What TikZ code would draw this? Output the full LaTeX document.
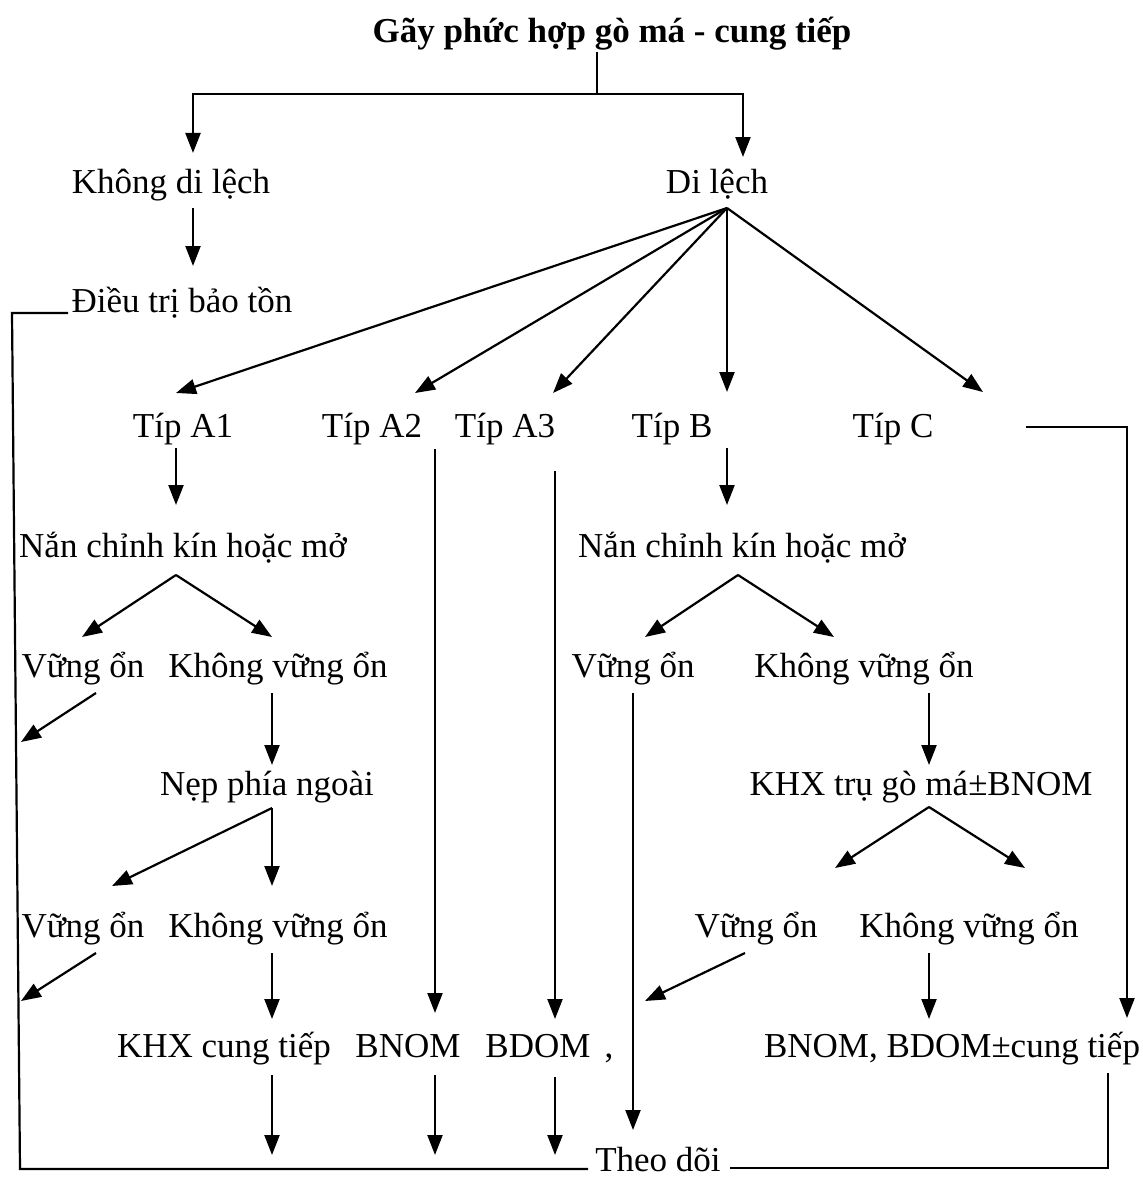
\documentclass[tikz,border=0pt]{standalone}
\usepackage{fontspec}
\setmainfont{Liberation Serif}
\usetikzlibrary{arrows.meta}

\begin{document}
\begin{tikzpicture}[x=0.5pt,y=-0.5pt,>={Triangle[length=10pt,width=7.5pt]},
                    line width=1.1pt,
                    txt/.style={anchor=base,inner sep=0pt,font=\fontsize{17.5pt}{21pt}\selectfont}]
  \useasboundingbox (0,0) rectangle (1142,1177);

  \node[txt,font=\fontsize{17.5pt}{21pt}\selectfont\bfseries] (title) at (612,43) {Gãy phức hợp gò má - cung tiếp};

  \node[txt] (kdl) at (171,193) {Không di lệch};
  \node[txt] (dl) at (717,193) {Di lệch};
  \node[txt] (dt) at (182,312) {Điều trị bảo tồn};

  \node[txt] (a1) at (183,437) {Típ A1};
  \node[txt] (a2) at (372,437) {Típ A2};
  \node[txt] (a3) at (505,437) {Típ A3};
  \node[txt] (b) at (672,437) {Típ B};
  \node[txt] (c) at (893,437) {Típ C};

  \node[txt] (nanL) at (183,557) {Nắn chỉnh kín hoặc mở};
  \node[txt] (vL1) at (83,677) {Vững ổn};
  \node[txt] (kvL1) at (278,677) {Không vững ổn};
  \node[txt] (nep) at (267,795) {Nẹp phía ngoài};
  \node[txt] (vL2) at (83,937) {Vững ổn};
  \node[txt] (kvL2) at (278,937) {Không vững ổn};
  \node[txt] (khx) at (224,1057) {KHX cung tiếp};
  \node[txt] (bnom) at (408,1057) {BNOM};
  \node[txt] (bdom) at (538,1057) {BDOM};
  \node[txt] (comma) at (609,1057) {,};

  \node[txt] (nanR) at (742,557) {Nắn chỉnh kín hoặc mở};
  \node[txt] (vR1) at (633,677) {Vững ổn};
  \node[txt] (kvR1) at (864,677) {Không vững ổn};
  \node[txt] (khxt) at (921,795) {KHX trụ gò má±BNOM};
  \node[txt] (vR2) at (756,937) {Vững ổn};
  \node[txt] (kvR2) at (969,937) {Không vững ổn};
  \node[txt] (bnR) at (952,1057) {BNOM, BDOM±cung tiếp};

  \node[txt] (td) at (658,1171) {Theo dõi};

  % end points of the connectors
  \coordinate (split) at (597,94);
  \coordinate (kdlin) at (193,153);
  \coordinate (dlin) at (743,157);
  \coordinate (kdlout) at (193,208);
  \coordinate (dtin) at (193,266);
  \coordinate (dlout) at (727,208);
  \coordinate (a1in) at (176,393);
  \coordinate (a2in) at (415,393);
  \coordinate (a3in) at (553,393);
  \coordinate (bin) at (727,392);
  \coordinate (cin) at (983,392);

  \coordinate (a1out) at (176,448);
  \coordinate (nanLin) at (176,505);
  \coordinate (nanLout) at (176,575);
  \coordinate (vL1in) at (82,637);
  \coordinate (kvL1in) at (272,637);
  \coordinate (vL1out) at (96,693);
  \coordinate (vL1end) at (21,742);
  \coordinate (kvL1out) at (272,693);
  \coordinate (nepin) at (272,765);
  \coordinate (nepout) at (272,808);
  \coordinate (vL2in) at (112,886);
  \coordinate (kvL2in) at (272,886);
  \coordinate (vL2out) at (96,953);
  \coordinate (vL2end) at (21,1001);
  \coordinate (kvL2out) at (272,953);
  \coordinate (khxin) at (272,1019);
  \coordinate (a2out) at (435,449);
  \coordinate (bnomin) at (435,1013);
  \coordinate (a3out) at (555,471);
  \coordinate (bdomin) at (555,1019);
  \coordinate (khxout) at (272,1075);
  \coordinate (khxend) at (272,1155);
  \coordinate (bnomout) at (435,1075);
  \coordinate (bnomend) at (435,1155);
  \coordinate (bdomout) at (555,1077);
  \coordinate (bdomend) at (555,1155);

  \coordinate (dtleft) at (68,313);
  \coordinate (lcorner) at (12,313);
  \coordinate (bcorner) at (20,1169);
  \coordinate (tdleft) at (588,1169);
  \coordinate (tdright) at (730,1168);
  \coordinate (rcorner) at (1108,1168);
  \coordinate (bnRout) at (1108,1073);

  \coordinate (cout) at (1026,427);
  \coordinate (bnRin) at (1127,1018);

  \coordinate (bout) at (727,448);
  \coordinate (nanRin) at (727,505);
  \coordinate (nanRout) at (738,575);
  \coordinate (vR1in) at (645,637);
  \coordinate (kvR1in) at (834,637);
  \coordinate (vR1out) at (633,693);
  \coordinate (tdin) at (633,1130);
  \coordinate (kvR1out) at (929,693);
  \coordinate (khxtin) at (929,765);
  \coordinate (khxtout) at (929,807);
  \coordinate (vR2in) at (835,868);
  \coordinate (kvR2in) at (1025,868);
  \coordinate (vR2out) at (745,953);
  \coordinate (vR2end) at (645,1001);
  \coordinate (kvR2out) at (929,953);
  \coordinate (bnRin2) at (929,1019);

  % title split
  \draw (title.south -| split) -- (split);
  \draw[->] (split) -| (kdlin);
  \draw[->] (split) -| (dlin);
  \draw[->] (kdlout) -- (dtin);
  \foreach \t in {a1in,a2in,a3in,bin,cin}
    \draw[->] (dlout) -- (\t);

  % left branch
  \draw[->] (a1out) -- (nanLin);
  \draw[->] (nanLout) -- (vL1in);
  \draw[->] (nanLout) -- (kvL1in);
  \draw[->] (vL1out) -- (vL1end);
  \draw[->] (kvL1out) -- (nepin);
  \draw[->] (nepout) -- (vL2in);
  \draw[->] (nepout) -- (kvL2in);
  \draw[->] (vL2out) -- (vL2end);
  \draw[->] (kvL2out) -- (khxin);
  \draw[->] (a2out) -- (bnomin);
  \draw[->] (a3out) -- (bdomin);
  \draw[->] (khxout) -- (khxend);
  \draw[->] (bnomout) -- (bnomend);
  \draw[->] (bdomout) -- (bdomend);

  % right branch
  \draw[->] (bout) -- (nanRin);
  \draw[->] (nanRout) -- (vR1in);
  \draw[->] (nanRout) -- (kvR1in);
  \draw[->] (vR1out) -- (tdin);
  \draw[->] (kvR1out) -- (khxtin);
  \draw[->] (khxtout) -- (vR2in);
  \draw[->] (khxtout) -- (kvR2in);
  \draw[->] (vR2out) -- (vR2end);
  \draw[->] (kvR2out) -- (bnRin2);
  \draw[->] (cout) -| (bnRin);

  % follow-up frame
  \draw (dtleft) -- (lcorner) -- (bcorner) -- (tdleft);
  \draw (bnRout) -- (rcorner) -- (tdright);
\end{tikzpicture}
\end{document}
